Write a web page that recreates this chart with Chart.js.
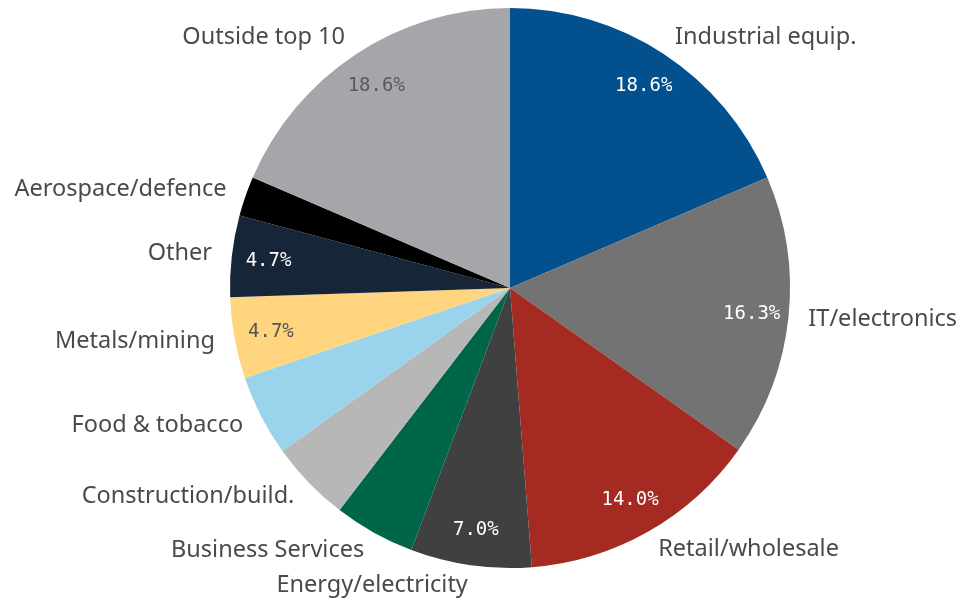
<!DOCTYPE html>
<html>
<head>
<meta charset="utf-8">
<script src="https://cdn.jsdelivr.net/npm/chart.js@4/dist/chart.umd.min.js"></script>
<style>
  html, body { margin: 0; padding: 0; background: #ffffff; }
  #wrap { width: 964px; height: 603px; position: relative; }
</style>
</head>
<body>
<div id="wrap"><canvas id="pie" width="964" height="603"></canvas></div>
<script>
// Sector shares, clockwise from 12 o'clock
const sectors = [
  "Industrial equip.", "IT/electronics", "Retail/wholesale", "Energy/electricity",
  "Business Services", "Construction/build.", "Food & tobacco", "Metals/mining",
  "Other", "Aerospace/defence", "Outside top 10"
];
const shares = [18.6, 16.3, 14.0, 7.0, 4.7, 4.7, 4.7, 4.7, 4.7, 2.3, 18.6];
// Slices whose percentage is printed inside
const printedShare = [true, true, true, true, false, false, false, true, true, false, true];

const sliceColors = [
  "#03508F", "#737373", "#A52B22", "#404040", "#00664A", "#B7B7B7",
  "#9AD3EC", "#FFD580", "#172539", "#000000", "#A5A6AA"
];
const shareTextColors = [
  "#ffffff", "#ffffff", "#ffffff", "#ffffff", "#ffffff", "#555555",
  "#555555", "#555555", "#ffffff", "#ffffff", "#5a5a5a"
];

const sliceLabels = {
  id: "sliceLabels",
  afterDatasetsDraw(chart) {
    const ctx = chart.ctx;
    const meta = chart.getDatasetMeta(0);
    ctx.save();
    meta.data.forEach((arc, i) => {
      const mid = (arc.startAngle + arc.endAngle) / 2;
      const r = arc.outerRadius;
      const cos = Math.cos(mid), sin = Math.sin(mid);

      // category name outside the rim
      const rl = r + 20;
      ctx.font = '23.5px "Noto Sans", sans-serif';
      ctx.fillStyle = "#4a4a4a";
      ctx.textBaseline = "middle";
      ctx.textAlign = cos >= 0 ? "left" : "right";
      ctx.fillText(sectors[i], arc.x + cos * rl, arc.y + sin * rl);

      // share inside the slice
      if (printedShare[i]) {
        const rv = r * 0.868;
        ctx.font = '19px "DejaVu Sans Mono", monospace';
        ctx.fillStyle = shareTextColors[i];
        ctx.textAlign = "center";
        ctx.fillText(shares[i].toFixed(1) + "%", arc.x + cos * rv, arc.y + sin * rv + 1);
      }
    });
    ctx.restore();
  }
};

new Chart(document.getElementById("pie"), {
  type: "pie",
  data: {
    labels: sectors,
    datasets: [{
      data: shares,
      backgroundColor: sliceColors,
      borderWidth: 0
    }]
  },
  options: {
    responsive: false,
    animation: false,
    layout: { padding: { left: 230, right: 174, top: 8, bottom: 35 } },
    plugins: {
      legend: { display: false },
      tooltip: { enabled: false }
    }
  },
  plugins: [sliceLabels]
});
</script>
</body>
</html>
